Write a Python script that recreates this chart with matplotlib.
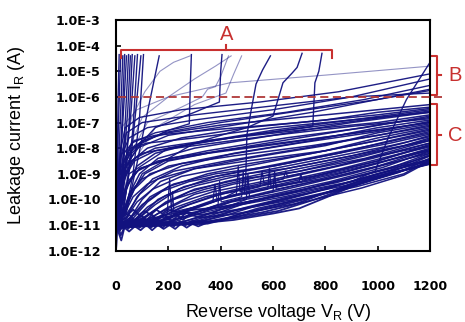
import numpy as np
import matplotlib
matplotlib.use('Agg')
import matplotlib.pyplot as plt
from matplotlib.ticker import FixedLocator, FuncFormatter, NullLocator

# curves as (V, log10 I) points
floor_curves = [
	[(0, -12.0), (3, -11.0), (10, -11.3), (20, -11.6), (32, -11.1), (50, -11.25), (72, -11.05), (94, -11.2),
	 (116, -11.0), (138, -11.2), (160, -11.0), (182, -11.15), (204, -11.0), (226, -11.15), (248, -10.95),
	 (270, -11.1), (292, -10.95), (314, -11.05), (350, -10.9), (450, -10.8), (600, -10.55), (700, -10.35),
	 (820, -9.85), (950, -9.3), (1085, -8.9), (1200, -8.62)],
	[(0, -11.3), (8, -11.0), (18, -11.4), (40, -10.9), (62, -11.1), (84, -10.9), (106, -11.05), (128, -10.85),
	 (150, -11.05), (172, -10.85), (194, -11.0), (216, -10.85), (238, -11.0), (260, -10.85), (282, -11.0),
	 (304, -10.85), (340, -10.9), (420, -10.75), (560, -10.5), (680, -10.2), (800, -9.75), (950, -9.2),
	 (1100, -8.85), (1200, -8.55)],
	[(0, -11.0), (12, -10.6), (28, -10.9), (50, -10.6), (72, -10.8), (94, -10.6), (116, -10.8), (138, -10.6),
	 (160, -10.8), (182, -10.6), (204, -10.75), (226, -10.55), (248, -10.7), (270, -10.5), (320, -10.6),
	 (400, -10.5), (520, -10.3), (650, -10.0), (800, -9.6), (1000, -9.0), (1200, -8.5)],
	[(0, -11.5), (6, -10.5), (20, -10.4), (44, -10.6), (66, -10.4), (88, -10.6), (110, -10.45), (132, -10.6),
	 (154, -10.4), (176, -10.55), (198, -10.4), (240, -10.5), (300, -10.4), (400, -10.3), (500, -10.1),
	 (650, -9.8), (800, -9.4), (1000, -8.9), (1200, -8.45)],
	[(0, -12.0), (4, -11.2), (14, -10.8), (36, -11.0), (58, -10.75), (80, -10.95), (102, -10.7), (124, -10.9),
	 (146, -10.7), (168, -10.9), (190, -10.7), (212, -10.85), (234, -10.65), (256, -10.8), (278, -10.6),
	 (330, -10.7), (430, -10.6), (560, -10.4), (700, -10.05), (850, -9.6), (1000, -9.1), (1200, -8.6)],
	[(0, -11.0), (16, -11.2), (26, -10.95), (46, -11.15), (68, -10.9), (90, -11.1), (112, -10.9), (134, -11.1),
	 (156, -10.9), (178, -11.1), (200, -10.9), (222, -11.05), (244, -10.85), (266, -11.0), (288, -10.85),
	 (360, -10.85), (480, -10.7), (620, -10.45), (760, -10.0), (900, -9.5), (1050, -9.0), (1200, -8.6)],
]

spike_curves = [
	[(0, -11.0), (100, -10.9), (195, -10.6), (205, -9.2), (212, -10.5), (300, -10.3), (370, -10.1), (378, -9.4),
	 (386, -10.0), (460, -9.8), (467, -8.7), (474, -9.7), (550, -9.5), (558, -8.9), (566, -9.4), (640, -9.2),
	 (648, -8.9), (655, -9.1), (800, -8.8), (1000, -8.3), (1200, -7.9)],
	[(0, -11.1), (150, -10.9), (210, -10.7), (216, -9.7), (222, -10.6), (300, -10.5), (390, -10.2), (396, -9.3),
	 (402, -10.1), (480, -9.9), (486, -8.9), (492, -9.8), (580, -9.6), (586, -8.8), (592, -9.5), (700, -9.3),
	 (706, -9.0), (712, -9.25), (900, -8.8), (1200, -8.1)],
	[(0, -11.0), (200, -10.8), (300, -10.6), (420, -10.3), (498, -10.0), (504, -9.0), (510, -9.9), (600, -9.7),
	 (606, -8.9), (612, -9.6), (800, -9.2), (1000, -8.7), (1200, -8.2)],
]

c_curves = [
	[(0, -11.0), (10, -10.2), (25, -9.0), (50, -8.2), (100, -7.7), (200, -7.4), (400, -7.1), (600, -6.9), (800, -6.7), (1000, -6.5), (1200, -6.3)],
	[(0, -11.1), (12, -10.4), (30, -9.3), (60, -8.5), (120, -8.0), (250, -7.6), (500, -7.2), (800, -6.9), (1000, -6.6), (1200, -6.4)],
	[(0, -11.0), (20, -10.6), (40, -9.6), (80, -8.7), (150, -8.2), (300, -7.8), (600, -7.3), (900, -6.9), (1200, -6.5)],
	[(0, -11.2), (25, -10.7), (50, -9.8), (90, -9.0), (160, -8.4), (300, -8.0), (600, -7.5), (900, -7.0), (1200, -6.6)],
	[(0, -11.0), (15, -10.0), (35, -9.0), (70, -8.4), (150, -8.0), (350, -7.7), (700, -7.3), (1000, -7.0), (1200, -6.7)],
	[(0, -11.1), (30, -10.6), (60, -9.7), (110, -9.0), (200, -8.5), (400, -8.1), (700, -7.6), (1000, -7.1), (1200, -6.8)],
	[(0, -11.0), (40, -10.7), (80, -9.9), (140, -9.2), (250, -8.7), (450, -8.2), (750, -7.7), (1000, -7.2), (1200, -6.9)],
	[(0, -11.2), (20, -10.3), (45, -9.4), (90, -8.8), (200, -8.4), (400, -8.1), (700, -7.7), (1000, -7.3), (1200, -7.0)],
	[(0, -11.0), (50, -10.8), (100, -10.0), (170, -9.3), (300, -8.8), (500, -8.4), (800, -7.9), (1000, -7.4), (1200, -7.05)],
	[(0, -11.1), (35, -10.4), (70, -9.6), (130, -9.0), (250, -8.6), (450, -8.3), (750, -7.9), (1000, -7.5), (1200, -7.15)],
	[(0, -11.0), (60, -10.8), (120, -10.1), (200, -9.5), (350, -9.0), (550, -8.6), (800, -8.1), (1000, -7.6), (1200, -7.2)],
	[(0, -11.2), (45, -10.5), (90, -9.8), (160, -9.2), (300, -8.8), (500, -8.5), (800, -8.1), (1000, -7.7), (1200, -7.3)],
	[(0, -11.0), (80, -10.8), (150, -10.2), (240, -9.6), (380, -9.1), (600, -8.7), (850, -8.2), (1050, -7.7), (1200, -7.35)],
	[(0, -11.1), (70, -10.6), (130, -9.9), (220, -9.4), (380, -9.0), (600, -8.7), (850, -8.2), (1050, -7.8), (1200, -7.45)],
	[(0, -11.0), (100, -10.8), (180, -10.2), (280, -9.7), (420, -9.3), (650, -8.8), (900, -8.3), (1100, -7.8), (1200, -7.5)],
	[(0, -11.2), (90, -10.7), (160, -10.0), (260, -9.5), (420, -9.1), (650, -8.8), (900, -8.3), (1100, -7.9), (1200, -7.6)],
	[(0, -11.0), (120, -10.8), (200, -10.3), (300, -9.8), (450, -9.4), (700, -8.9), (950, -8.3), (1200, -7.65)],
	[(0, -11.1), (110, -10.7), (190, -10.1), (300, -9.6), (480, -9.2), (700, -8.9), (950, -8.4), (1200, -7.7)],
	[(0, -11.0), (140, -10.8), (230, -10.3), (340, -9.9), (500, -9.5), (720, -9.0), (980, -8.4), (1200, -7.8)],
	[(0, -11.2), (150, -10.8), (250, -10.3), (360, -9.9), (520, -9.5), (750, -9.1), (1000, -8.5), (1200, -7.85)],
	[(0, -11.0), (170, -10.8), (270, -10.4), (380, -10.0), (540, -9.6), (760, -9.1), (1000, -8.5), (1200, -7.9)],
	[(0, -11.1), (190, -10.8), (290, -10.4), (400, -10.0), (560, -9.6), (780, -9.2), (1000, -8.6), (1200, -8.0)],
	[(0, -11.0), (210, -10.85), (310, -10.5), (420, -10.1), (580, -9.7), (800, -9.2), (1000, -8.7), (1200, -8.05)],
	[(0, -11.1), (230, -10.85), (330, -10.5), (440, -10.1), (600, -9.8), (820, -9.3), (1020, -8.75), (1200, -8.1)],
	[(0, -11.0), (250, -10.9), (350, -10.55), (460, -10.2), (620, -9.8), (840, -9.35), (1040, -8.8), (1200, -8.2)],
	[(0, -11.1), (270, -10.9), (370, -10.6), (480, -10.2), (640, -9.9), (860, -9.4), (1050, -8.85), (1200, -8.25)],
	[(0, -11.0), (290, -10.9), (390, -10.6), (500, -10.3), (660, -9.9), (880, -9.45), (1060, -8.9), (1200, -8.3)],
	[(0, -11.1), (310, -10.9), (410, -10.65), (520, -10.3), (680, -10.0), (900, -9.5), (1080, -8.95), (1200, -8.4)],
	[(0, -11.0), (330, -10.9), (430, -10.7), (540, -10.35), (700, -10.0), (920, -9.5), (1100, -9.0), (1200, -8.45)],
	[(0, -11.1), (350, -10.95), (450, -10.7), (560, -10.4), (720, -10.1), (940, -9.55), (1100, -9.05), (1200, -8.5)],
	[(0, -11.0), (8, -10.0), (20, -9.2), (45, -8.6), (100, -8.2), (250, -7.9), (500, -7.5), (800, -7.1), (1200, -6.55)],
	[(0, -11.1), (18, -10.4), (40, -9.5), (80, -8.9), (160, -8.5), (350, -8.1), (650, -7.6), (950, -7.2), (1200, -6.75)],
	[(0, -11.0), (25, -10.5), (55, -9.7), (100, -9.2), (200, -8.7), (400, -8.3), (700, -7.8), (1000, -7.35), (1200, -6.95)],
	[(0, -11.2), (30, -10.6), (65, -9.9), (120, -9.4), (220, -8.9), (420, -8.5), (720, -8.0), (1000, -7.5), (1200, -7.1)],
	[(0, -11.0), (40, -10.7), (80, -10.1), (140, -9.6), (250, -9.1), (450, -8.7), (750, -8.2), (1000, -7.7), (1200, -7.25)],
	[(0, -11.1), (55, -10.7), (100, -10.2), (170, -9.7), (280, -9.3), (480, -8.9), (780, -8.3), (1020, -7.8), (1200, -7.4)],
	[(0, -11.0), (70, -10.8), (120, -10.3), (190, -9.85), (310, -9.45), (500, -9.0), (800, -8.4), (1050, -7.9), (1200, -7.55)],
	[(0, -11.1), (90, -10.8), (150, -10.4), (220, -10.0), (340, -9.6), (530, -9.15), (820, -8.55), (1060, -8.0), (1200, -7.7)],
	[(0, -11.0), (110, -10.85), (170, -10.5), (250, -10.1), (370, -9.7), (560, -9.3), (840, -8.7), (1080, -8.1), (1200, -7.8)],
	[(0, -11.1), (130, -10.85), (200, -10.55), (280, -10.2), (400, -9.8), (590, -9.4), (860, -8.8), (1090, -8.2), (1200, -7.95)],
	[(0, -11.0), (160, -10.9), (230, -10.6), (310, -10.3), (430, -9.9), (620, -9.5), (880, -8.9), (1100, -8.3), (1200, -8.05)],
	[(0, -11.1), (200, -10.9), (270, -10.65), (350, -10.35), (470, -10.0), (650, -9.6), (900, -9.0), (1100, -8.45), (1200, -8.15)],
	[(0, -11.0), (240, -10.9), (320, -10.7), (400, -10.4), (520, -10.1), (680, -9.7), (920, -9.1), (1120, -8.55), (1200, -8.3)],
	[(0, -11.1), (280, -10.95), (360, -10.75), (450, -10.45), (570, -10.15), (720, -9.8), (940, -9.2), (1130, -8.65), (1200, -8.4)],
	[(0, -11.0), (320, -10.95), (400, -10.8), (500, -10.5), (620, -10.2), (760, -9.85), (960, -9.3), (1140, -8.75), (1200, -8.55)],
	[(0, -11.0), (5, -10.3), (15, -9.0), (30, -8.2), (70, -7.7), (150, -7.5), (350, -7.3), (700, -7.0), (1000, -6.7), (1200, -6.45)],
	[(0, -11.0), (10, -9.8), (25, -8.7), (55, -8.0), (120, -7.8), (300, -7.6), (600, -7.2), (900, -6.9), (1200, -6.6)],
	[(0, -11.1), (15, -10.2), (35, -9.1), (70, -8.5), (150, -8.1), (300, -7.9), (600, -7.5), (900, -7.15), (1200, -6.85)],
	[(0, -11.0), (20, -10.0), (45, -9.3), (90, -8.8), (180, -8.5), (350, -8.2), (650, -7.8), (950, -7.35), (1200, -7.0)],
]

b_curves = [
	[(0, -11.0), (8, -9.5), (20, -8.3), (50, -7.6), (120, -7.2), (300, -6.9), (600, -6.5), (900, -6.0), (1200, -5.3)],
	[(0, -11.1), (10, -9.8), (25, -8.6), (60, -7.8), (150, -7.4), (350, -7.0), (650, -6.6), (950, -6.1), (1200, -5.55)],
	[(0, -11.0), (15, -10.0), (35, -8.8), (80, -8.0), (200, -7.5), (450, -7.1), (750, -6.6), (1000, -6.1), (1200, -5.7)],
	[(0, -11.2), (5, -10.0), (15, -8.5), (40, -7.4), (100, -7.0), (300, -6.7), (600, -6.35), (900, -6.0), (1200, -5.85)],
	[(0, -11.0), (6, -9.8), (15, -8.2), (35, -7.2), (90, -6.8), (250, -6.5), (550, -6.2), (850, -5.8), (1200, -5.1)],
	[(0, -11.0), (12, -9.9), (30, -8.7), (70, -7.9), (180, -7.4), (400, -7.0), (700, -6.55), (1000, -6.1), (1200, -5.75)],
]

# early breakdown (left side of bracket A)
a_left = [
	[(0, -12.0), (2, -11.0), (5, -8.5), (8, -6.0), (12, -4.35)],
	[(0, -11.0), (4, -10.0), (8, -7.5), (14, -5.5), (18, -4.35)],
	[(0, -11.0), (5, -10.5), (12, -8.0), (20, -6.0), (26, -4.4)],
	[(0, -11.1), (8, -10.3), (16, -8.5), (25, -6.5), (33, -4.35)],
	[(0, -11.0), (10, -10.0), (20, -8.0), (30, -6.3), (40, -4.4)],
	[(0, -11.0), (12, -10.4), (25, -8.8), (36, -6.8), (48, -4.35)],
	[(0, -11.2), (15, -10.2), (30, -8.5), (45, -6.5), (55, -4.4)],
	[(0, -11.0), (18, -10.5), (35, -9.0), (50, -7.0), (62, -4.35)],
	[(0, -11.0), (20, -10.0), (40, -8.3), (58, -6.5), (72, -4.4)],
	[(0, -11.1), (25, -10.6), (45, -9.2), (65, -7.2), (82, -4.35)],
	[(0, -11.0), (30, -10.3), (55, -8.6), (75, -6.6), (95, -4.4)],
	[(0, -11.0), (35, -10.6), (65, -9.0), (90, -6.8), (105, -4.35)],
	[(0, -11.0), (40, -10.5), (80, -8.6), (120, -6.6), (165, -4.4)],
]

# later breakdown curves inside bracket A and the one crossing near 1000 V
a_mid = [
	[(0, -11.0), (15, -9.8), (40, -8.6), (100, -7.8), (200, -7.3), (280, -7.05), (284, -5.5), (288, -4.35)],
	[(0, -11.0), (20, -9.6), (60, -8.2), (150, -7.2), (300, -6.6), (395, -6.2), (400, -5.0), (405, -4.35)],
	[(0, -11.0), (200, -10.6), (400, -10.0), (495, -9.5), (500, -7.5), (515, -6.6), (535, -5.5), (560, -4.95), (590, -4.4)],
	[(0, -11.0), (100, -9.0), (300, -7.8), (500, -7.2), (600, -6.75), (638, -5.45), (673, -5.07), (692, -4.85), (711, -4.3)],
	[(0, -11.0), (50, -9.0), (200, -8.0), (500, -7.5), (752, -7.15), (760, -5.45), (775, -5.0), (787, -4.3)],
	[(0, -11.0), (300, -10.5), (600, -9.9), (900, -9.3), (990, -8.9), (1040, -7.6), (1110, -6.1), (1200, -4.65)],
]

light_curves = [
	[(20, -7.2), (80, -6.5), (200, -6.0), (435, -5.45), (800, -5.15), (1200, -4.8)],
	[(0, -11.0), (20, -8.5), (60, -6.8), (110, -5.8), (168, -5.0), (220, -4.65), (283, -4.4)],
	[(0, -11.0), (30, -8.5), (100, -6.8), (200, -6.0), (300, -5.3), (380, -4.8), (440, -4.4)],
	[(0, -11.0), (50, -8.8), (150, -7.2), (300, -6.3), (420, -5.85), (450, -5.1), (480, -4.4)],
	[(0, -11.0), (40, -8.5), (120, -7.0), (250, -6.4), (330, -6.0), (350, -5.7), (380, -5.6), (400, -5.2), (430, -4.4)],
]

y_decades = list(range(-12, -2))

# annotation levels (log10 I)
a_level, a_end, a_mid_top, a_text = -4.154, -4.467, -3.978, -3.55
a_span = (19, 825)
b_span = (-4.408, -5.152, -5.907)
c_span = (-6.286, -7.5, -8.673)
thr_level = -6.0

NAVY = '#12127f'
RED = '#c8302f'


def draw(ax, curves, alpha, lw):
	for pts in curves:
		v = [p[0] for p in pts]
		i = [10.0 ** p[1] for p in pts]
		ax.plot(v, i, color=NAVY, lw=lw, alpha=alpha, solid_joinstyle='round')


fig = plt.figure(figsize=(4.65, 3.22), dpi=100)
ax = fig.add_axes([0.2495, 0.2214, 0.6753, 0.7165])
ax.set_yscale('log')
ax.set_xlim(0, 1200)
ax.set_ylim(1e-12, 1e-3)

draw(ax, floor_curves, 0.95, 1.3)
draw(ax, c_curves, 0.95, 1.1)
draw(ax, spike_curves, 0.95, 0.9)
draw(ax, b_curves, 0.95, 1.0)
draw(ax, a_left, 0.95, 1.0)
draw(ax, a_mid, 0.95, 1.0)
draw(ax, light_curves, 0.45, 0.8)

# ticks
ax.xaxis.set_major_locator(FixedLocator([0, 200, 400, 600, 800, 1000, 1200]))
ax.yaxis.set_major_locator(FixedLocator([10.0 ** d for d in y_decades]))
ax.yaxis.set_minor_locator(NullLocator())
ax.yaxis.set_major_formatter(FuncFormatter(lambda v, p: '1.0E%d' % round(np.log10(v))))
ax.tick_params(axis='both', direction='in', length=3.5, width=1.2, labelsize=9.1)
ax.tick_params(axis='x', pad=21)
ax.tick_params(axis='y', pad=11)
for lab in ax.get_xticklabels() + ax.get_yticklabels():
	lab.set_fontweight('bold')
	lab.set_family('DejaVu Sans')
for s in ax.spines.values():
	s.set_linewidth(1.5)

ax.set_xlabel('Reverse voltage V$_\\mathregular{R}$ (V)', family='Liberation Sans', fontsize=13)
ax.set_ylabel('Leakage current I$_\\mathregular{R}$ (A)', family='Liberation Sans', fontsize=13)
ax.xaxis.set_label_coords(0.5175, -0.222)
ax.yaxis.set_label_coords(-0.283, 0.5)

# threshold line
ax.plot([8, 1246], [10.0 ** thr_level] * 2, color='#b03838', lw=1.3, ls=(0, (4.5, 2.5)),
	clip_on=False, zorder=5)

# bracket A
x0, x1 = a_span
xm = 422
ax.plot([x0, x0, x1, x1], [10 ** a_end, 10 ** a_level, 10 ** a_level, 10 ** a_end],
	color=RED, lw=1.5, zorder=6, clip_on=False)
ax.plot([xm, xm], [10 ** a_level, 10 ** a_mid_top], color=RED, lw=1.5, zorder=6, clip_on=False)
ax.text(xm, 10 ** a_text, 'A', color=RED, fontsize=14.5, family='Liberation Sans',
	ha='center', va='center')

# brackets B and C, to the right of the frame
tr = ax.get_yaxis_transform()
for (top, mid, bot), name in [(b_span, 'B'), (c_span, 'C')]:
	ax.plot([1.0064, 1.0223, 1.0223, 1.0064], [10 ** top, 10 ** top, 10 ** bot, 10 ** bot],
		color=RED, lw=1.5, transform=tr, clip_on=False)
	ax.plot([1.0223, 1.035], [10 ** mid, 10 ** mid], color=RED, lw=1.5, transform=tr, clip_on=False)
	ax.text(1.08, 10 ** mid, name, color=RED, fontsize=14.5, family='Liberation Sans',
		ha='center', va='center', transform=tr)

fig.savefig('out.png', dpi=100)
